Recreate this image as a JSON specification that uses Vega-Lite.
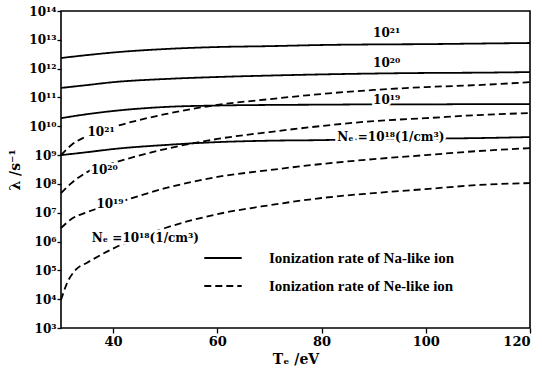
{
  "$schema": "https://vega.github.io/schema/vega-lite/v6.json",
  "width": 469,
  "height": 317,
  "autosize": "none",
  "padding": {"left": 61, "top": 11, "right": 12, "bottom": 53},
  "background": "white",
  "config": {
    "view": {"stroke": "black", "strokeWidth": 1.6},
    "font": "DejaVu Serif"
  },
  "datasets": {
    "curves": [
      {"T":30,"rate":2.34e12,"ne":"21","ion":"Ionization rate of Na-like ion"},
      {"T":35,"rate":2.95e12,"ne":"21","ion":"Ionization rate of Na-like ion"},
      {"T":40,"rate":3.63e12,"ne":"21","ion":"Ionization rate of Na-like ion"},
      {"T":50,"rate":4.79e12,"ne":"21","ion":"Ionization rate of Na-like ion"},
      {"T":60,"rate":5.62e12,"ne":"21","ion":"Ionization rate of Na-like ion"},
      {"T":70,"rate":6.03e12,"ne":"21","ion":"Ionization rate of Na-like ion"},
      {"T":80,"rate":6.61e12,"ne":"21","ion":"Ionization rate of Na-like ion"},
      {"T":90,"rate":6.92e12,"ne":"21","ion":"Ionization rate of Na-like ion"},
      {"T":100,"rate":7.08e12,"ne":"21","ion":"Ionization rate of Na-like ion"},
      {"T":110,"rate":7.41e12,"ne":"21","ion":"Ionization rate of Na-like ion"},
      {"T":120,"rate":7.76e12,"ne":"21","ion":"Ionization rate of Na-like ion"},
      {"T":30,"rate":2.14e11,"ne":"20","ion":"Ionization rate of Na-like ion"},
      {"T":35,"rate":2.69e11,"ne":"20","ion":"Ionization rate of Na-like ion"},
      {"T":40,"rate":3.39e11,"ne":"20","ion":"Ionization rate of Na-like ion"},
      {"T":50,"rate":4.37e11,"ne":"20","ion":"Ionization rate of Na-like ion"},
      {"T":60,"rate":5.13e11,"ne":"20","ion":"Ionization rate of Na-like ion"},
      {"T":70,"rate":5.75e11,"ne":"20","ion":"Ionization rate of Na-like ion"},
      {"T":80,"rate":6.31e11,"ne":"20","ion":"Ionization rate of Na-like ion"},
      {"T":90,"rate":6.76e11,"ne":"20","ion":"Ionization rate of Na-like ion"},
      {"T":100,"rate":7.08e11,"ne":"20","ion":"Ionization rate of Na-like ion"},
      {"T":110,"rate":7.24e11,"ne":"20","ion":"Ionization rate of Na-like ion"},
      {"T":120,"rate":7.59e11,"ne":"20","ion":"Ionization rate of Na-like ion"},
      {"T":30,"rate":1.91e10,"ne":"19","ion":"Ionization rate of Na-like ion"},
      {"T":35,"rate":2.63e10,"ne":"19","ion":"Ionization rate of Na-like ion"},
      {"T":40,"rate":3.39e10,"ne":"19","ion":"Ionization rate of Na-like ion"},
      {"T":50,"rate":4.68e10,"ne":"19","ion":"Ionization rate of Na-like ion"},
      {"T":60,"rate":5.25e10,"ne":"19","ion":"Ionization rate of Na-like ion"},
      {"T":70,"rate":5.5e10,"ne":"19","ion":"Ionization rate of Na-like ion"},
      {"T":80,"rate":5.62e10,"ne":"19","ion":"Ionization rate of Na-like ion"},
      {"T":90,"rate":5.75e10,"ne":"19","ion":"Ionization rate of Na-like ion"},
      {"T":100,"rate":5.75e10,"ne":"19","ion":"Ionization rate of Na-like ion"},
      {"T":110,"rate":5.89e10,"ne":"19","ion":"Ionization rate of Na-like ion"},
      {"T":120,"rate":5.89e10,"ne":"19","ion":"Ionization rate of Na-like ion"},
      {"T":30,"rate":1.0e9,"ne":"18","ion":"Ionization rate of Na-like ion"},
      {"T":35,"rate":1.26e9,"ne":"18","ion":"Ionization rate of Na-like ion"},
      {"T":40,"rate":1.62e9,"ne":"18","ion":"Ionization rate of Na-like ion"},
      {"T":50,"rate":2.24e9,"ne":"18","ion":"Ionization rate of Na-like ion"},
      {"T":60,"rate":2.82e9,"ne":"18","ion":"Ionization rate of Na-like ion"},
      {"T":70,"rate":3.16e9,"ne":"18","ion":"Ionization rate of Na-like ion"},
      {"T":80,"rate":3.31e9,"ne":"18","ion":"Ionization rate of Na-like ion"},
      {"T":90,"rate":3.63e9,"ne":"18","ion":"Ionization rate of Na-like ion"},
      {"T":100,"rate":3.72e9,"ne":"18","ion":"Ionization rate of Na-like ion"},
      {"T":110,"rate":3.89e9,"ne":"18","ion":"Ionization rate of Na-like ion"},
      {"T":120,"rate":4.22e9,"ne":"18","ion":"Ionization rate of Na-like ion"},
      {"T":30,"rate":1.0e9,"ne":"21","ion":"Ionization rate of Ne-like ion"},
      {"T":32,"rate":2.24e9,"ne":"21","ion":"Ionization rate of Ne-like ion"},
      {"T":35,"rate":4.57e9,"ne":"21","ion":"Ionization rate of Ne-like ion"},
      {"T":40,"rate":9.33e9,"ne":"21","ion":"Ionization rate of Ne-like ion"},
      {"T":50,"rate":2.63e10,"ne":"21","ion":"Ionization rate of Ne-like ion"},
      {"T":60,"rate":5.5e10,"ne":"21","ion":"Ionization rate of Ne-like ion"},
      {"T":70,"rate":8.71e10,"ne":"21","ion":"Ionization rate of Ne-like ion"},
      {"T":80,"rate":1.32e11,"ne":"21","ion":"Ionization rate of Ne-like ion"},
      {"T":90,"rate":1.82e11,"ne":"21","ion":"Ionization rate of Ne-like ion"},
      {"T":100,"rate":2.29e11,"ne":"21","ion":"Ionization rate of Ne-like ion"},
      {"T":110,"rate":2.69e11,"ne":"21","ion":"Ionization rate of Ne-like ion"},
      {"T":120,"rate":3.39e11,"ne":"21","ion":"Ionization rate of Ne-like ion"},
      {"T":30,"rate":4.79e7,"ne":"20","ion":"Ionization rate of Ne-like ion"},
      {"T":32,"rate":1.07e8,"ne":"20","ion":"Ionization rate of Ne-like ion"},
      {"T":35,"rate":2.57e8,"ne":"20","ion":"Ionization rate of Ne-like ion"},
      {"T":40,"rate":5.25e8,"ne":"20","ion":"Ionization rate of Ne-like ion"},
      {"T":50,"rate":1.62e9,"ne":"20","ion":"Ionization rate of Ne-like ion"},
      {"T":60,"rate":3.63e9,"ne":"20","ion":"Ionization rate of Ne-like ion"},
      {"T":70,"rate":6.31e9,"ne":"20","ion":"Ionization rate of Ne-like ion"},
      {"T":80,"rate":1.02e10,"ne":"20","ion":"Ionization rate of Ne-like ion"},
      {"T":90,"rate":1.51e10,"ne":"20","ion":"Ionization rate of Ne-like ion"},
      {"T":100,"rate":1.91e10,"ne":"20","ion":"Ionization rate of Ne-like ion"},
      {"T":110,"rate":2.45e10,"ne":"20","ion":"Ionization rate of Ne-like ion"},
      {"T":120,"rate":2.88e10,"ne":"20","ion":"Ionization rate of Ne-like ion"},
      {"T":30,"rate":2.95e6,"ne":"19","ion":"Ionization rate of Ne-like ion"},
      {"T":32,"rate":6.03e6,"ne":"19","ion":"Ionization rate of Ne-like ion"},
      {"T":35,"rate":1.05e7,"ne":"19","ion":"Ionization rate of Ne-like ion"},
      {"T":40,"rate":2.0e7,"ne":"19","ion":"Ionization rate of Ne-like ion"},
      {"T":50,"rate":7.08e7,"ne":"19","ion":"Ionization rate of Ne-like ion"},
      {"T":60,"rate":1.74e8,"ne":"19","ion":"Ionization rate of Ne-like ion"},
      {"T":70,"rate":3.02e8,"ne":"19","ion":"Ionization rate of Ne-like ion"},
      {"T":80,"rate":4.9e8,"ne":"19","ion":"Ionization rate of Ne-like ion"},
      {"T":90,"rate":7.24e8,"ne":"19","ion":"Ionization rate of Ne-like ion"},
      {"T":100,"rate":1.0e9,"ne":"19","ion":"Ionization rate of Ne-like ion"},
      {"T":110,"rate":1.38e9,"ne":"19","ion":"Ionization rate of Ne-like ion"},
      {"T":120,"rate":1.74e9,"ne":"19","ion":"Ionization rate of Ne-like ion"},
      {"T":30,"rate":9.3e3,"ne":"18","ion":"Ionization rate of Ne-like ion"},
      {"T":31,"rate":3.09e4,"ne":"18","ion":"Ionization rate of Ne-like ion"},
      {"T":33,"rate":1.12e5,"ne":"18","ion":"Ionization rate of Ne-like ion"},
      {"T":35,"rate":1.85e5,"ne":"18","ion":"Ionization rate of Ne-like ion"},
      {"T":40,"rate":5.7e5,"ne":"18","ion":"Ionization rate of Ne-like ion"},
      {"T":50,"rate":2.95e6,"ne":"18","ion":"Ionization rate of Ne-like ion"},
      {"T":60,"rate":8.91e6,"ne":"18","ion":"Ionization rate of Ne-like ion"},
      {"T":70,"rate":1.82e7,"ne":"18","ion":"Ionization rate of Ne-like ion"},
      {"T":80,"rate":3.24e7,"ne":"18","ion":"Ionization rate of Ne-like ion"},
      {"T":90,"rate":4.79e7,"ne":"18","ion":"Ionization rate of Ne-like ion"},
      {"T":100,"rate":6.61e7,"ne":"18","ion":"Ionization rate of Ne-like ion"},
      {"T":110,"rate":9.12e7,"ne":"18","ion":"Ionization rate of Ne-like ion"},
      {"T":120,"rate":1.07e8,"ne":"18","ion":"Ionization rate of Ne-like ion"}
    ],
    "labels": [
      {"T":92.5,"rate":1.74e13,"label":"10²¹"},
      {"T":92.5,"rate":1.55e12,"label":"10²⁰"},
      {"T":92.5,"rate":8.1e10,"label":"10¹⁹"},
      {"T":93.3,"rate":4.2e9,"label":"Nₑ =10¹⁸(1/cm³)"},
      {"T":37.7,"rate":6.3e9,"label":"10²¹"},
      {"T":38.3,"rate":3.0e8,"label":"10²⁰"},
      {"T":39.4,"rate":2.0e7,"label":"10¹⁹"},
      {"T":46.2,"rate":1.32e6,"label":"Nₑ =10¹⁸(1/cm³)"}
    ]
  },
  "layer": [
    {
      "data": {"name": "curves"},
      "mark": {"type": "line", "interpolate": "monotone", "color": "black", "strokeWidth": 1.8},
      "encoding": {
        "x": {
          "field": "T", "type": "quantitative",
          "scale": {"domain": [30, 120], "nice": false, "zero": false},
          "axis": {
            "values": [40, 60, 80, 100, 120],
            "title": "Tₑ /eV",
            "titleFont": "DejaVu Serif", "titleFontSize": 14, "titleFontWeight": "bold", "titleColor": "black",
            "titlePadding": 4,
            "labelFont": "DejaVu Serif", "labelFontSize": 13, "labelFontWeight": "bold", "labelColor": "black",
            "tickSize": 5, "tickColor": "black", "tickWidth": 1.3, "labelPadding": 2,
            "domain": false, "grid": false
          }
        },
        "y": {
          "field": "rate", "type": "quantitative",
          "scale": {"type": "log", "domain": [1000, 1e14], "nice": false},
          "axis": {
            "values": [1e3,1e4,1e5,1e6,1e7,1e8,1e9,1e10,1e11,1e12,1e13,1e14],
            "labelExpr": "'10' + ['⁰','¹','²','³','⁴','⁵','⁶','⁷','⁸','⁹','¹⁰','¹¹','¹²','¹³','¹⁴'][round(log(datum.value)/LN10)]",
            "title": "λ /s⁻¹",
            "titleFont": "DejaVu Serif", "titleFontSize": 14, "titleFontWeight": "bold", "titleColor": "black",
            "titlePadding": 6,
            "labelFont": "DejaVu Serif", "labelFontSize": 12, "labelFontWeight": "bold", "labelColor": "black",
            "tickSize": 4, "tickColor": "black", "tickWidth": 1.3, "labelPadding": 1,
            "domain": false, "grid": false
          }
        },
        "detail": {"field": "ne"},
        "strokeDash": {
          "field": "ion", "type": "nominal",
          "scale": {"domain": ["Ionization rate of Na-like ion", "Ionization rate of Ne-like ion"], "range": [[1, 0], [7, 4]]},
          "legend": {
            "title": null,
            "orient": "none",
            "legendX": 142,
            "legendY": 227,
            "symbolType": "stroke",
            "symbolSize": 1400,
            "symbolStrokeColor": "black",
            "symbolStrokeWidth": 1.8,
            "labelFont": "Liberation Serif",
            "labelFontSize": 15,
            "labelFontWeight": "bold",
            "labelColor": "black",
            "labelLimit": 400,
            "labelOffset": 26,
            "rowPadding": -13
          }
        }
      }
    },
    {
      "data": {"name": "labels"},
      "mark": {"type": "text", "font": "DejaVu Serif", "fontSize": 12, "fontWeight": "bold", "fill": "white", "stroke": "white", "strokeWidth": 5, "align": "center", "baseline": "middle"},
      "encoding": {
        "x": {"field": "T", "type": "quantitative"},
        "y": {"field": "rate", "type": "quantitative"},
        "text": {"field": "label"}
      }
    },
    {
      "data": {"name": "labels"},
      "mark": {"type": "text", "font": "DejaVu Serif", "fontSize": 12, "fontWeight": "bold", "color": "black", "align": "center", "baseline": "middle"},
      "encoding": {
        "x": {"field": "T", "type": "quantitative"},
        "y": {"field": "rate", "type": "quantitative"},
        "text": {"field": "label"}
      }
    }
  ]
}
